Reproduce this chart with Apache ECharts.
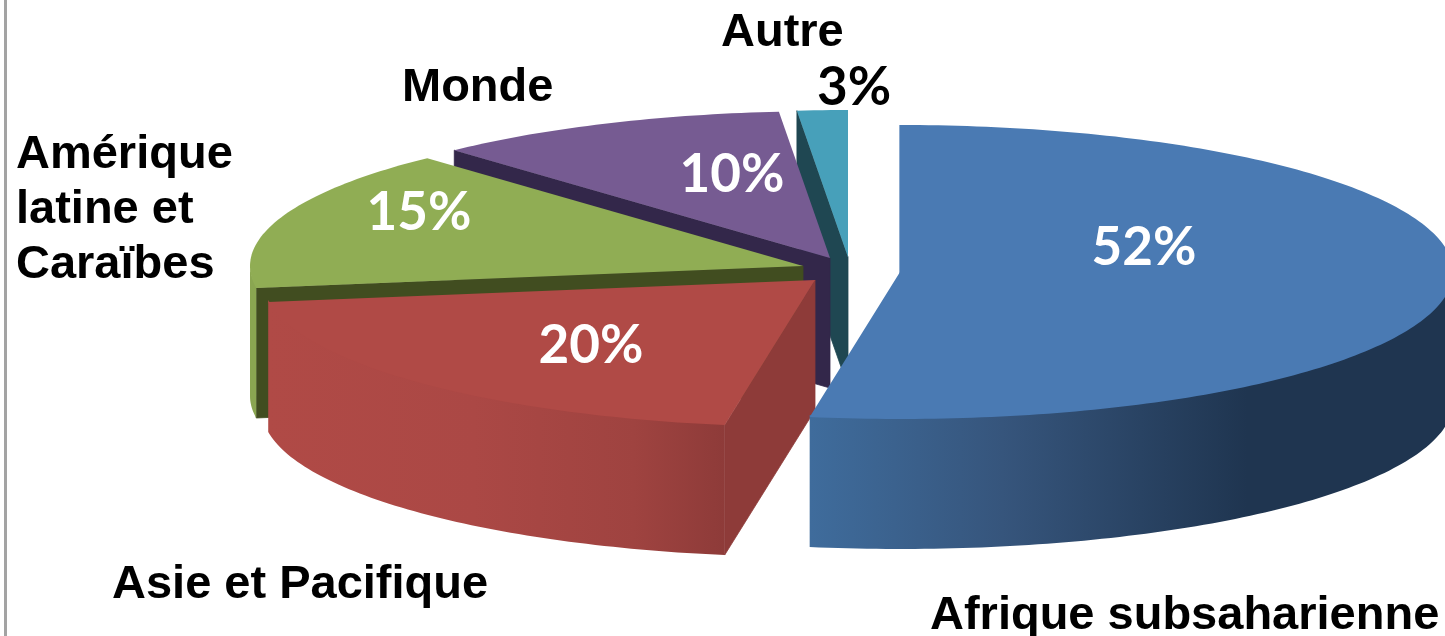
<!DOCTYPE html>
<html>
<head>
<meta charset="utf-8">
<style>
  html, body { margin: 0; padding: 0; background: #fff; }
  #chart { width: 1445px; height: 636px; }
</style>
</head>
<body>
<div id="chart"></div>
<script src="https://cdn.jsdelivr.net/npm/echarts@6/dist/echarts.min.js"></script>
<script>
// data, clockwise from 12 o'clock
const categories = ["Afrique subsaharienne", "Asie et Pacifique", "Amérique\nlatine et\nCaraïbes", "Monde", "Autre"];
const shares = [52, 20, 15, 10, 3];

// look of each slice, same order as categories
const sliceLook = [
  { apex: [900, 272], top: "#4a7ab3", face: "#4a7ab3",
    wall: [[0, "#3f6c9c"], [0.3, "#36557c"], [0.68, "#1f3550"], [1, "#1f3550"]],
    name: [930, 616], pct: [1144, 248], pctColor: "#fff" },
  { apex: [815, 280], top: "#b04a46", face: "#8e3b39",
    wall: [[0, "#b04a46"], [0.45, "#ab4845"], [0.8, "#9f4340"], [1, "#8e3b39"]],
    name: [112, 585], pct: [591, 346], pctColor: "#fff" },
  { apex: [803, 266], top: "#90ad54", face: "#414d20",
    wall: [[0, "#8aa651"], [1, "#8aa651"]],
    name: [16, 210], pct: [419, 213], pctColor: "#fff" },
  { apex: [830, 258], top: "#765b92", face: "#33274a",
    wall: [[0, "#33274a"], [1, "#33274a"]],
    name: [402, 88], pct: [732, 175], pctColor: "#fff" },
  { apex: [848, 257], top: "#47a0ba", face: "#1f4752",
    wall: [[0, "#1f4752"], [1, "#1f4752"]],
    name: [721, 33], pct: [854, 88], pctColor: "#000" },
];

const RX = 553, RY = 147, DEPTH = 130;
// the original's perspective squeezes the angles a bit: true angle -> drawn angle
const viewStops = [[0, 0], [187.2, 189.4], [259.2, 261.4], [313.2, 317.2], [349.2, 354.7], [360, 360]];

function viewAngle(deg) {
  for (let i = 1; i < viewStops.length; i++) {
    const a = viewStops[i - 1], b = viewStops[i];
    if (deg <= b[0]) return a[1] + (b[1] - a[1]) * (deg - a[0]) / (b[0] - a[0]);
  }
  return deg;
}

function rimPoint(apex, deg, drop) {
  const r = deg * Math.PI / 180;
  return [apex[0] + RX * Math.sin(r), apex[1] - RY * Math.cos(r) + (drop || 0)];
}

function arc(apex, from, to, drop) {
  const pts = [];
  const n = Math.max(2, Math.ceil(Math.abs(to - from)));
  for (let i = 0; i <= n; i++) pts.push(rimPoint(apex, from + (to - from) * i / n, drop));
  return pts;
}

const total = shares.reduce((s, v) => s + v, 0);
function startOf(i) {
  let sum = 0;
  for (let k = 0; k < i; k++) sum += shares[k];
  return viewAngle(sum / total * 360);
}
function endOf(i) {
  let sum = 0;
  for (let k = 0; k <= i; k++) sum += shares[k];
  return viewAngle(sum / total * 360);
}

function renderSlice(params, api) {
  const i = api.value(1);
  const look = sliceLook[i];
  const a = look.apex;
  const from = startOf(i), to = endOf(i);
  const kids = [];

  // cut face along the leading edge
  const s = rimPoint(a, from);
  kids.push({
    type: "polygon",
    shape: { points: [a, s, [s[0], s[1] + DEPTH], [a[0], a[1] + DEPTH]] },
    style: { fill: look.face, stroke: look.face, lineWidth: 0.8 },
  });

  // outer wall, only the front half of the rim shows
  // top edge sits a bit under the top polygon so no seam shows
  const w0 = Math.max(from, 90), w1 = Math.min(to, 270);
  if (w1 > w0) {
    kids.push({
      type: "polygon",
      shape: { points: arc(a, w0, w1, -2).concat(arc(a, w1, w0, DEPTH)) },
      style: { fill: new echarts.graphic.LinearGradient(0, 0, 1, 0, look.wall.map(c => ({ offset: c[0], color: c[1] }))) },
    });
  }

  // top
  kids.push({
    type: "polygon",
    shape: { points: [a].concat(arc(a, from, to, 0)) },
    style: { fill: look.top },
  });

  // labels
  kids.push({
    type: "text",
    z2: 100,
    style: {
      text: categories[i], x: look.name[0], y: look.name[1],
      fill: "#000", font: 'bold 47px "Liberation Sans"',
      textAlign: "left", textVerticalAlign: "middle", lineHeight: 55,
    },
  });
  kids.push({
    type: "text",
    z2: 100,
    style: {
      text: api.value(0) + "%", x: look.pct[0], y: look.pct[1],
      fill: look.pctColor, font: 'bold 53px Lato',
      textAlign: "center", textVerticalAlign: "middle",
    },
  });
  return { type: "group", children: kids };
}

// painted back to front
const drawOrder = shares.map((v, i) => [v, i]).reverse();

const myChart = echarts.init(document.getElementById("chart"), null, { renderer: "canvas" });
myChart.setOption({
  animation: false,
  backgroundColor: "#fff",
  graphic: [
    { type: "rect", shape: { x: 4, y: 0, width: 3, height: 636 }, style: { fill: "#a3a3a3" }, silent: true },
  ],
  series: [
    {
      type: "custom",
      coordinateSystem: "none",
      renderItem: renderSlice,
      data: drawOrder,
      silent: true,
    },
  ],
});
</script>
</body>
</html>
